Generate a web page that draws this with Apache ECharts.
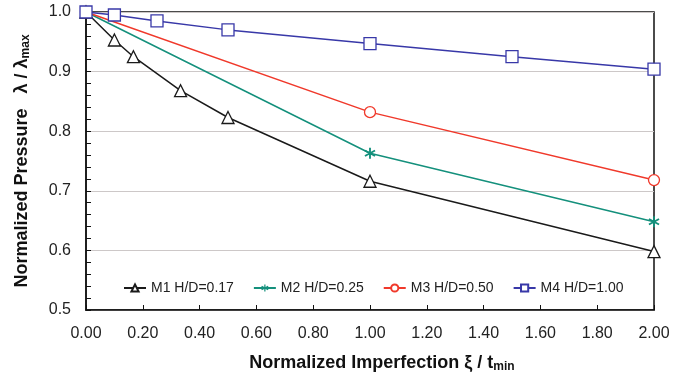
<!DOCTYPE html>
<html>
<head>
<meta charset="utf-8">
<script src="https://cdn.jsdelivr.net/npm/echarts@6/dist/echarts.min.js"></script>
<style>
  html, body { margin: 0; padding: 0; background: #fff; }
  #chart { width: 690px; height: 380px; }
</style>
</head>
<body>
<div id="chart"></div>
<script>
// data (x = xi / t_min, y = lambda / lambda_max)
var m1X = [0, 0.1, 0.167, 0.333, 0.5, 1.0, 2.0];
var m1Y = [1.0, 0.953, 0.925, 0.868, 0.823, 0.716, 0.598];
var m2X = [0, 1.0, 2.0];
var m2Y = [1.0, 0.763, 0.648];
var m3X = [0, 1.0, 2.0];
var m3Y = [1.0, 0.832, 0.718];
var m4X = [0, 0.1, 0.25, 0.5, 1.0, 1.5, 2.0];
var m4Y = [1.0, 0.995, 0.985, 0.970, 0.947, 0.925, 0.904];
var names = ['M1 H/D=0.17', 'M2 H/D=0.25', 'M3 H/D=0.50', 'M4 H/D=1.00'];
var colors = ['#1a1a1a', '#14907c', '#f0392b', '#3838a8'];

function pairs(xs, ys) {
  return xs.map(function (x, i) { return [x, ys[i]]; });
}

// asterisk marker: vertical bar + two diagonals
var star = 'path://M42 0L58 0L58 100L42 100Z M11 18.1L97 68.1L89 81.9L3 31.9Z M3 68.1L89 18.1L97 31.9L11 81.9Z';

var font = '"Liberation Sans", Arial, sans-serif';

function hollow(i) {
  return { color: '#fff', borderColor: colors[i], borderWidth: 1.3 };
}

var titleRich = {
  b: { fontSize: 18, fontWeight: 'bold', color: '#111', fontFamily: font },
  s: { fontSize: 12, fontWeight: 'bold', color: '#111', fontFamily: font, verticalAlign: 'bottom', padding: [7, 0, 0, 0] }
};

var myChart = echarts.init(document.getElementById('chart'));

var option = {
  animation: false,
  textStyle: { fontFamily: font },
  grid: {
    left: 86, right: 36, top: 12, bottom: 70,
    show: true, borderColor: '#111', borderWidth: 1.5
  },
  legend: {
    left: 118, top: 276,
    itemWidth: 22, itemHeight: 9, itemGap: 19,
    textStyle: { fontSize: 14, color: '#222', fontFamily: font },
    data: names
  },
  xAxis: {
    type: 'value', min: 0, max: 2, interval: 0.2,
    name: '{b|Normalized Imperfection ξ / t}{s|min}',
    nameLocation: 'middle', nameGap: 44,
    nameTextStyle: { rich: titleRich, padding: [0, 0, 0, 24] },
    axisLine: { lineStyle: { color: '#111', width: 1.5 } },
    axisTick: { inside: true, length: 5, lineStyle: { color: '#111' } },
    axisLabel: {
      fontSize: 16, color: '#222', margin: 16,
      formatter: function (v) { return v.toFixed(2); }
    },
    splitLine: { show: false }
  },
  yAxis: {
    type: 'value', min: 0.5, max: 1.0, interval: 0.1,
    name: '{b|Normalized Pressure   λ / λ}{s|max}',
    nameLocation: 'middle', nameGap: 54,
    nameTextStyle: { rich: titleRich },
    axisLine: { show: true, lineStyle: { color: '#111', width: 1.5 } },
    axisTick: { inside: true, length: 5, lineStyle: { color: '#111' } },
    minorTick: { show: true, splitNumber: 5, length: 5, lineStyle: { color: '#111' } },
    axisLabel: {
      fontSize: 16, color: '#222', margin: 15,
      formatter: function (v) { return v.toFixed(1); }
    },
    splitLine: { lineStyle: { color: '#cdc8c8', width: 1 } }
  },
  series: [
    {
      name: names[0], type: 'line', data: pairs(m1X, m1Y),
      symbol: 'triangle', symbolSize: 12,
      lineStyle: { color: colors[0], width: 1.5 },
      itemStyle: hollow(0)
    },
    {
      name: names[1], type: 'line', data: pairs(m2X, m2Y),
      symbol: star, symbolSize: 11,
      lineStyle: { color: colors[1], width: 1.5 },
      itemStyle: { color: colors[1], borderWidth: 0 }
    },
    {
      name: names[2], type: 'line', data: pairs(m3X, m3Y),
      symbol: 'circle', symbolSize: 11,
      lineStyle: { color: colors[2], width: 1.5 },
      itemStyle: hollow(2)
    },
    {
      name: names[3], type: 'line', data: pairs(m4X, m4Y),
      symbol: 'rect', symbolSize: 12,
      lineStyle: { color: colors[3], width: 1.5 },
      itemStyle: hollow(3)
    }
  ]
};

myChart.setOption(option);
</script>
</body>
</html>
